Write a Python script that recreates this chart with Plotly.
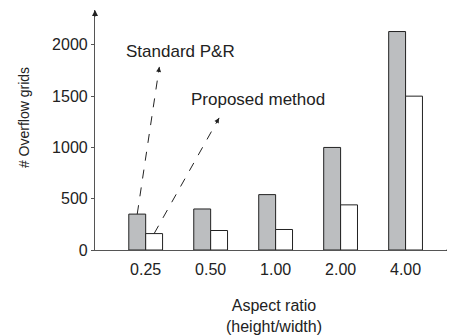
import plotly.graph_objects as go

categories = ["0.25", "0.50", "1.00", "2.00", "4.00"]
standard_pr = [350, 400, 540, 1000, 2130]
proposed = [160, 190, 200, 440, 1500]
y_ticks = [0, 500, 1000, 1500, 2000]

FONT = "Liberation Sans, Arial, sans-serif"
TXT = "#222222"
AX = "#555555"
xpos = list(range(len(categories)))
bw = 0.26

fig = go.Figure()
fig.add_trace(go.Bar(x=xpos, y=standard_pr, name="Standard P&R",
                     marker=dict(color="#bcbec0", line=dict(color="#222222", width=1)),
                     width=bw, offset=-bw))
fig.add_trace(go.Bar(x=xpos, y=proposed, name="Proposed method",
                     marker=dict(color="#ffffff", line=dict(color="#222222", width=1)),
                     width=bw, offset=0))

# dashed pointer lines from first group's bars to labels
p1_start = (xpos[0] - bw / 2, standard_pr[0])
p1_end = (0.21, 1785)
p2_start = (xpos[0] + bw / 2, proposed[0])
p2_end = (1.13, 1288)
for (s, e) in [(p1_start, p1_end), (p2_start, p2_end)]:
    fig.add_shape(type="line", x0=s[0], y0=s[1], x1=e[0], y1=e[1],
                  xref="x", yref="y", line=dict(color="#222222", width=1, dash="dash"))

# arrowheads for pointer lines (pixel offsets along direction)
fig.add_annotation(x=p1_end[0], y=p1_end[1], xref="x", yref="y", text="",
                   showarrow=True, arrowhead=2, arrowsize=1, arrowwidth=1,
                   arrowcolor="#222222", ax=-1, ay=7)
fig.add_annotation(x=p2_end[0], y=p2_end[1], xref="x", yref="y", text="",
                   showarrow=True, arrowhead=2, arrowsize=1, arrowwidth=1,
                   arrowcolor="#222222", ax=-3.5, ay=6)

fig.add_annotation(x=0.53, y=1932, xref="x", yref="y", text="Standard P&R",
                   showarrow=False, font=dict(family=FONT, size=17, color=TXT))
fig.add_annotation(x=1.73, y=1463, xref="x", yref="y", text="Proposed method",
                   showarrow=False, font=dict(family=FONT, size=17, color=TXT))

# y-axis title
fig.add_annotation(x=-0.198, y=0.55, xref="paper", yref="paper", text="# Overflow grids",
                   textangle=-90, showarrow=False, xanchor="center", yanchor="middle",
                   font=dict(family=FONT, size=14, color=TXT))

# axis arrowheads
fig.add_annotation(x=0, y=1, xref="paper", yref="paper", text="", showarrow=True,
                   arrowhead=2, arrowsize=1, arrowwidth=1.2, arrowcolor="#222222", ax=0, ay=8)
fig.add_annotation(x=1, y=0, xref="paper", yref="paper", text="", showarrow=True,
                   arrowhead=2, arrowsize=1, arrowwidth=1.2, arrowcolor="#222222", ax=-8, ay=0)

fig.update_layout(
    width=447, height=327,
    margin=dict(l=87, r=2, t=2, b=85, autoexpand=False),
    paper_bgcolor="white", plot_bgcolor="white",
    showlegend=False,
    bargap=0.48, bargroupgap=0,
    font=dict(family=FONT, size=16, color=TXT),
    xaxis=dict(range=[-0.78, 4.73], tickvals=xpos, ticktext=categories, automargin=False,
               showgrid=False, zeroline=False, showline=True, linecolor=AX, linewidth=1.2,
               ticks="", ticklabelstandoff=5, tickfont=dict(size=16, color=TXT),
               title=dict(text="Aspect ratio<br>(height/width)", font=dict(size=16, color=TXT), standoff=22)),
    yaxis=dict(range=[0, 2340], tickvals=y_ticks, showgrid=False, zeroline=False, automargin=False,
               showline=True, linecolor=AX, linewidth=1.2, ticks="outside", ticklen=3,
               tickcolor=AX, tickfont=dict(size=16, color=TXT)),
)

fig.write_html("out.html")
